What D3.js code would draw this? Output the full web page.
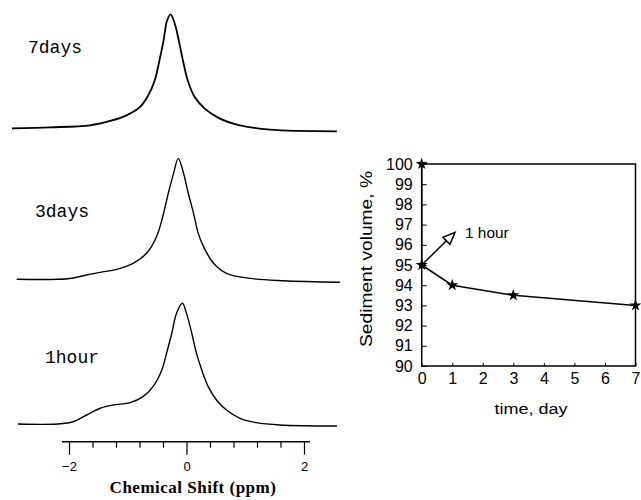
<!DOCTYPE html>
<html>
<head>
<meta charset="utf-8">
<script src="https://cdn.jsdelivr.net/npm/d3@7"></script>
<style>
  body { margin: 0; background: #fff; }
  svg { display: block; }
</style>
</head>
<body>
<svg id="chart" width="641" height="500"></svg>
<script>
// 谱图数据 (化学位移 ppm, 强度)
const spectrumLabels = ["7days", "3days", "1hour"];
const ppm7days = [-2.97, -2.32, -1.64, -1.30, -1.02, -0.79, -0.65, -0.54, -0.46, -0.39, -0.33, -0.27, -0.20, -0.12, -0.05, 0.03, 0.14, 0.31, 0.57, 0.91, 1.42, 2.56];
const int7days = [0, 0.8, 2.5, 6.1, 10.8, 17.8, 27.5, 40, 56.7, 73.3, 90, 95, 87.3, 70.6, 54, 38.6, 26, 16.4, 8.1, 2.5, -1.1, -2.5];
const ppm3days = [-2.89, -2.20, -1.95, -1.70, -1.47, -1.19, -0.91, -0.68, -0.51, -0.39, -0.31, -0.22, -0.14, -0.05, 0.03, 0.12, 0.20, 0.29, 0.46, 0.68, 1.08, 1.65, 2.61];
const int3days = [0, 0, 0.9, 3.6, 5.8, 8.3, 13.3, 21.7, 35.5, 55, 71.7, 88.3, 100.8, 88.3, 71.7, 55, 38.3, 27.2, 13.3, 5, 0.8, -1.2, -2.5];
const ppm1hour = [-2.87, -2.20, -1.93, -1.70, -1.47, -1.25, -0.96, -0.74, -0.57, -0.42, -0.34, -0.25, -0.17, -0.07, 0.00, 0.09, 0.17, 0.26, 0.37, 0.51, 0.68, 0.91, 1.19, 1.59, 2.56];
const int1hour = [0, 0, 1.9, 7.5, 13.1, 15.8, 17.8, 22.8, 31.1, 45, 58.9, 75.6, 92.2, 100.6, 92.2, 75.6, 58.9, 45, 31.1, 20, 11.7, 4.75, 1.1, -0.8, -1.7];
const shiftTicks = [-2, -1.6, -1.2, -0.8, -0.4, 0, 0.4, 0.8, 1.2, 1.6, 2];
const shiftLabels = [-2, 0, 2];

// 沉积体积数据
const timeDay = [0, 0, 1, 3, 7];
const sedimentVolume = [100, 95, 94, 93.5, 93];
const timeTicks = [0, 1, 2, 3, 4, 5, 6, 7];
const volumeTicks = [90, 91, 92, 93, 94, 95, 96, 97, 98, 99, 100];

const svg = d3.select("#chart");
const sans = "Liberation Sans, Arial, sans-serif";

// ---------- 左图: NMR 谱 ----------
const x = d3.scaleLinear().domain([-2, 2]).range([69, 304]);
const baselines = [128.3, 279.3, 424];
const labelPos = [[28, 53], [35, 217], [45, 363]];
const spectra = [
    d3.zip(ppm7days, int7days),
    d3.zip(ppm3days, int3days),
    d3.zip(ppm1hour, int1hour)
];

spectra.forEach((pts, i) => {
    const y = d3.scaleLinear().domain([0, 100]).range([baselines[i], baselines[i] - 120]);
    const line = d3.line()
        .x(d => x(d[0]))
        .y(d => y(d[1]))
        .curve(d3.curveCatmullRom.alpha(0.5));
    svg.append("path")
        .datum(pts)
        .attr("fill", "none")
        .attr("stroke", "#000")
        .attr("stroke-width", i === 0 ? 1.8 : 1.4)
        .attr("d", line);
    svg.append("text")
        .attr("x", labelPos[i][0])
        .attr("y", labelPos[i][1])
        .attr("font-family", "Liberation Mono, monospace")
        .attr("font-size", 18)
        .text(spectrumLabels[i]);
});

// 化学位移坐标轴
const axisY = 441.7;
const gx = svg.append("g")
    .attr("transform", `translate(0,${axisY})`)
    .call(d3.axisBottom(x)
        .tickValues(shiftTicks)
        .tickSizeInner(6)
        .tickSizeOuter(0)
        .tickPadding(14)
        .tickFormat(d => shiftLabels.includes(d) ? d3.format("d")(d) : ""));
gx.select(".domain").remove();
gx.selectAll(".tick line")
    .attr("stroke-width", 1.2)
    .attr("y2", d => shiftLabels.includes(d) ? 13 : 6);
gx.selectAll("text")
    .attr("font-family", sans)
    .attr("font-size", 13)
    .attr("fill", "#000");
svg.append("line")
    .attr("x1", x(-2.12)).attr("x2", x(2.1))
    .attr("y1", axisY).attr("y2", axisY)
    .attr("stroke", "#000")
    .attr("stroke-width", 1.5);

svg.append("text")
    .attr("x", 193)
    .attr("y", 493)
    .attr("text-anchor", "middle")
    .attr("font-family", "Liberation Serif, Times New Roman, serif")
    .attr("font-weight", "bold")
    .attr("font-size", 17)
    .attr("letter-spacing", 0.5)
    .text("Chemical Shift (ppm)");

// ---------- 右图: 沉积体积 ----------
const tx = d3.scaleLinear().domain([0, 7]).range([421.7, 635.5]);
const vy = d3.scaleLinear().domain([90, 100]).range([366, 164]);

const gLeft = svg.append("g")
    .attr("transform", `translate(${tx(0)},0)`)
    .call(d3.axisLeft(vy)
        .tickValues(volumeTicks)
        .tickFormat(d3.format("d"))
        .tickSizeInner(-5)
        .tickSizeOuter(0)
        .tickPadding(9));
gLeft.select(".domain").remove();

const gBottom = svg.append("g")
    .attr("transform", `translate(0,${vy(90)})`)
    .call(d3.axisBottom(tx)
        .tickValues(timeTicks)
        .tickFormat(d3.format("d"))
        .tickSizeInner(-3)
        .tickSizeOuter(0)
        .tickPadding(7));
gBottom.select(".domain").remove();

[gLeft, gBottom].forEach(g => {
    g.selectAll("text")
        .attr("font-family", sans)
        .attr("font-size", 16)
        .attr("fill", "#000");
    g.selectAll(".tick line").attr("stroke", "#000");
});

// 边框
svg.append("rect")
    .attr("x", tx(0))
    .attr("y", vy(100))
    .attr("width", tx(7) - tx(0))
    .attr("height", vy(90) - vy(100))
    .attr("fill", "none")
    .attr("stroke", "#000")
    .attr("stroke-width", 1.5);

const volPts = d3.zip(timeDay, sedimentVolume);
svg.append("path")
    .datum(volPts)
    .attr("fill", "none")
    .attr("stroke", "#000")
    .attr("stroke-width", 1.5)
    .attr("d", d3.line().x(d => tx(d[0])).y(d => vy(d[1])));

svg.selectAll(".star")
    .data(volPts)
    .enter().append("path")
    .attr("class", "star")
    .attr("transform", d => `translate(${tx(d[0])},${vy(d[1])})`)
    .attr("d", d3.symbol(d3.symbolStar, 45))
    .attr("fill", "#000");

// "1 hour" 箭头标注
const ax0 = tx(timeDay[1]), ay0 = vy(sedimentVolume[1]);
const tipX = ax0 + 33.3, tipY = ay0 - 32.6;
const len = Math.hypot(tipX - ax0, tipY - ay0);
const ux = (tipX - ax0) / len, uy = (tipY - ay0) / len;
const bx = tipX - 12 * ux, by = tipY - 12 * uy;
svg.append("line")
    .attr("x1", ax0).attr("y1", ay0)
    .attr("x2", bx).attr("y2", by)
    .attr("stroke", "#000")
    .attr("stroke-width", 1.5);
svg.append("path")
    .attr("d", `M${tipX},${tipY}L${bx - 5 * uy},${by + 5 * ux}L${bx + 5 * uy},${by - 5 * ux}Z`)
    .attr("fill", "#fff")
    .attr("stroke", "#000")
    .attr("stroke-width", 1.5);
svg.append("text")
    .attr("transform", "translate(465,238) scale(1.1,1)")
    .attr("font-family", sans)
    .attr("font-size", 14)
    .text("1 hour");

// 坐标轴标题
svg.append("text")
    .attr("transform", "translate(531,414) scale(1.2,1)")
    .attr("text-anchor", "middle")
    .attr("font-family", sans)
    .attr("font-size", 15)
    .text("time, day");

svg.append("text")
    .attr("transform", "translate(372,259) rotate(-90) scale(1.2,1)")
    .attr("text-anchor", "middle")
    .attr("font-family", sans)
    .attr("font-size", 16)
    .text("Sediment volume, %");
</script>
</body>
</html>
